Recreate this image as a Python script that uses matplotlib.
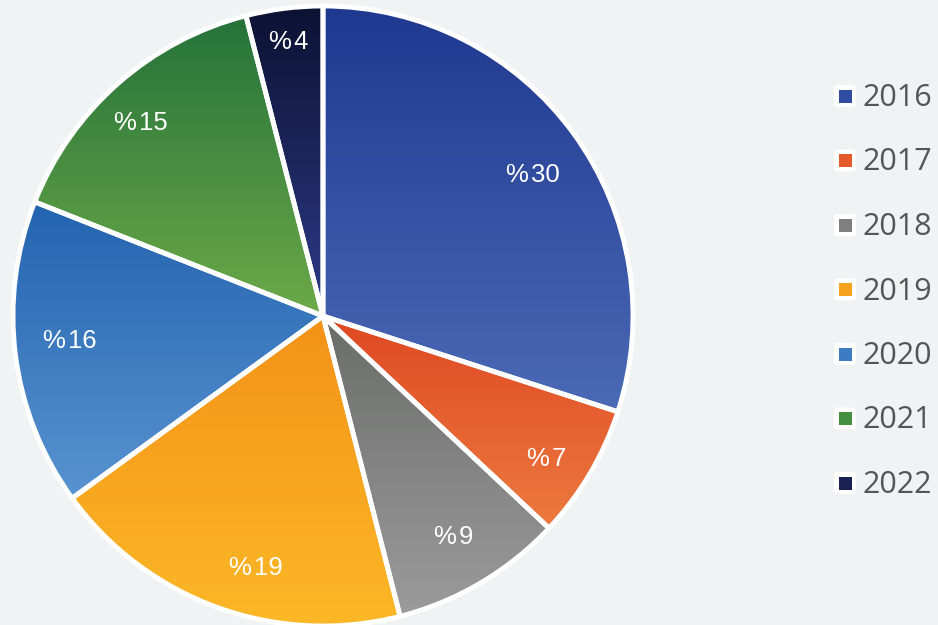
import numpy as np
import matplotlib.pyplot as plt
from matplotlib.colors import LinearSegmentedColormap
from matplotlib.patches import FancyBboxPatch, Rectangle

years = ['2016', '2017', '2018', '2019', '2020', '2021', '2022']
shares = [30, 7, 9, 19, 16, 15, 4]

# gradient colours for each slice, top -> bottom
top_colors = ['#1f3890', '#df4822', '#6a6c6a', '#f39218', '#2364b0', '#25723a', '#0c1232']
bottom_colors = ['#4b6ab6', '#ec7a40', '#9b9b9b', '#fcb826', '#5892d0', '#6caa48', '#2d3b88']
legend_colors = ['#2f4ea3', '#e55a2a', '#808080', '#f7a21e', '#3b7cc2', '#449040', '#1a2255']
# label placement (fraction of radius, angle nudge in degrees)
label_dist = [0.816, 0.858, 0.83, 0.842, 0.82, 0.856, 0.89]
label_nudge = [-2, -2, 0, 5, -1.6, 2, 0]

bg = '#f1f2f4'
fig = plt.figure(figsize=(9.38, 6.25), dpi=100)
fig.patch.set_facecolor(bg)
ax = fig.add_axes([0, 0, 1, 1])
ax.set_facecolor(bg)

cx, cy, R = 323, 309, 310

wedges, _ = ax.pie(shares, startangle=90, counterclock=False, center=(cx, cy), radius=R,
                   colors=['none'] * len(shares),
                   wedgeprops=dict(edgecolor='white', linewidth=3.5), frame=True)

grad = np.linspace(0, 1, 256).reshape(-1, 1)
for w, c0, c1 in zip(wedges, top_colors, bottom_colors):
    t = np.radians(np.linspace(w.theta1, w.theta2, 100))
    ys = np.concatenate([[cy], cy + R * np.sin(t)])
    xs = np.concatenate([[cx], cx + R * np.cos(t)])
    cmap = LinearSegmentedColormap.from_list('g', [c0, c1])
    im = ax.imshow(grad, cmap=cmap, origin='upper', aspect='auto',
                   extent=(xs.min(), xs.max(), ys.min(), ys.max()), zorder=0.5)
    im.set_clip_path(w)
    w.set_zorder(2)

# percentage labels
cum = 0
for v, d, nd in zip(shares, label_dist, label_nudge):
    mid = np.radians(90 - 360 * (cum + v / 2) / 100 + nd)
    cum += v
    ax.text(cx + d * R * np.cos(mid), cy + d * R * np.sin(mid), '%' + '\u200a' + str(v),
            ha='center', va='center', color='white', fontsize=18.5,
            family=['Liberation Sans', 'DejaVu Sans'], zorder=3)

# legend
for i, (yr, col) in enumerate(zip(years, legend_colors)):
    y = 625 - (96 + i * 64.5)
    ax.add_patch(FancyBboxPatch((836, y - 9), 18, 18, boxstyle='round,pad=2,rounding_size=4',
                                facecolor='white', edgecolor='none', zorder=3))
    ax.add_patch(Rectangle((839, y - 6.5), 13, 13, facecolor=col, edgecolor='none', zorder=4))
    ax.text(862, y - 2, yr, ha='left', va='center', fontsize=22, color='#555555',
            family='Open Sans', zorder=4)

ax.set_xlim(0, 938)
ax.set_ylim(0, 625)
ax.set_aspect('equal')
ax.axis('off')

fig.savefig('out.png', dpi=100, facecolor=bg)
